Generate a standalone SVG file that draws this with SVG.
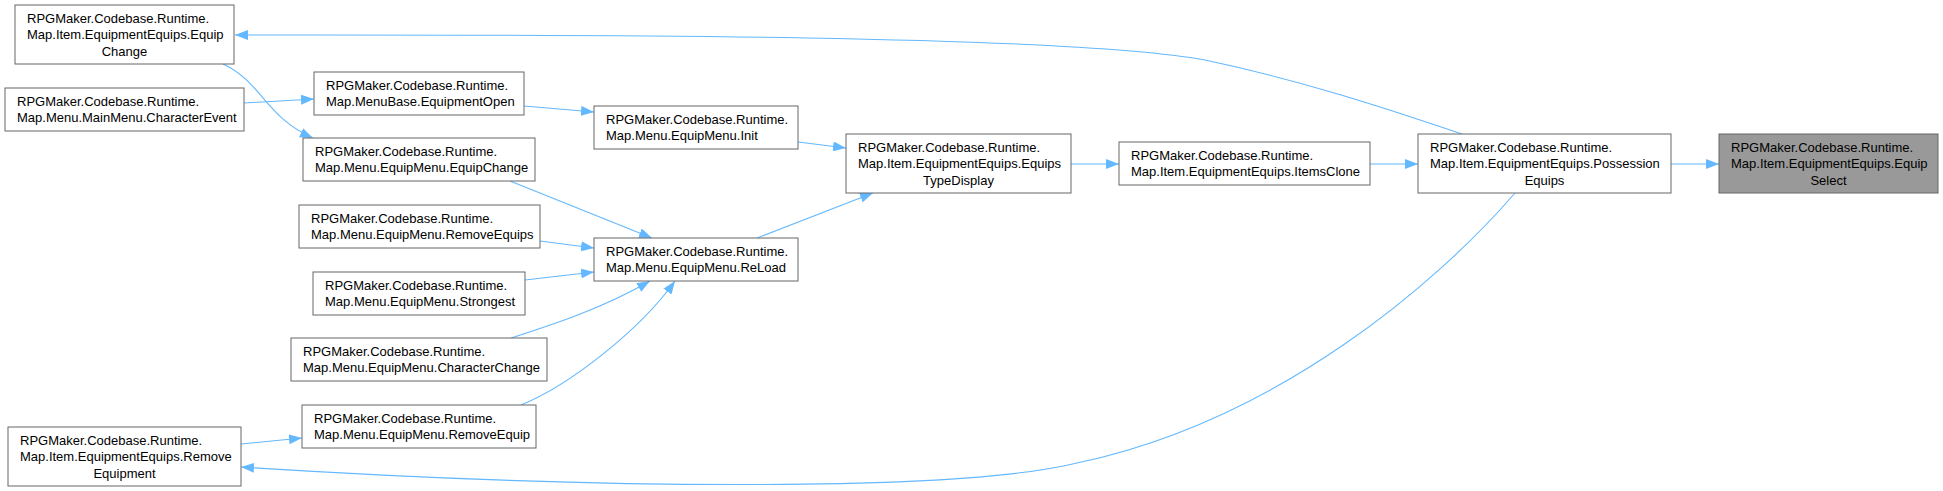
<svg xmlns="http://www.w3.org/2000/svg" width="1943" height="491" viewBox="0 0 1943 491">
<style>
.nb{fill:#ffffff;stroke:#666666;stroke-width:1}
.nf{fill:#999999;stroke:#666666;stroke-width:1}
text{font-family:"Liberation Sans",Arial,Helvetica,sans-serif;font-size:13px;fill:#000000}
.c{text-anchor:middle}
.e{fill:none;stroke:#63b8ff;stroke-width:1.1}
</style>
<defs>
<marker id="ah" markerWidth="13" markerHeight="10" refX="13" refY="5" orient="auto" markerUnits="userSpaceOnUse">
<path d="M0,0L13,5L0,10z" fill="#63b8ff"/>
</marker>
</defs>
<rect width="1943" height="491" fill="#ffffff"/>
<g id="connectors">
<path class="e" marker-end="url(#ah)" d="M1462,134 C1385,108 1300,80 1205,60 C1060,33 520,35 235,35"/>
<path class="e" marker-end="url(#ah)" d="M1515,193 C1440,280 1280,420 1077,463 C960,492 600,490 241,467"/>
<path class="e" marker-end="url(#ah)" d="M223,64 C262,82 265,117 313,138"/>
<path class="e" marker-end="url(#ah)" d="M244,103 L314,99"/>
<path class="e" marker-end="url(#ah)" d="M524,106 L594,112"/>
<path class="e" marker-end="url(#ah)" d="M798,142 L846,148"/>
<path class="e" marker-end="url(#ah)" d="M757,238 L873,193"/>
<path class="e" marker-end="url(#ah)" d="M1071,164 L1119,164"/>
<path class="e" marker-end="url(#ah)" d="M1370,164 L1418,164"/>
<path class="e" marker-end="url(#ah)" d="M1671,164 L1719,164"/>
<path class="e" marker-end="url(#ah)" d="M510,181 L652,238"/>
<path class="e" marker-end="url(#ah)" d="M540,241 L594,248"/>
<path class="e" marker-end="url(#ah)" d="M525,280 L594,272"/>
<path class="e" marker-end="url(#ah)" d="M511,338 C545,327 600,310 650,281"/>
<path class="e" marker-end="url(#ah)" d="M521,405 C570,385 640,330 675,281"/>
<path class="e" marker-end="url(#ah)" d="M241,444 L302,438"/>
</g>
<g id="n_equipchange_item">
<rect class="nb" x="15" y="5" width="219" height="59"/>
<text x="27" y="23">RPGMaker.Codebase.Runtime.</text>
<text x="27" y="39.3">Map.Item.EquipmentEquips.Equip</text>
<text class="c" x="124.5" y="55.6">Change</text>
</g>
<g id="n_characterevent">
<rect class="nb" x="5" y="88" width="239" height="43"/>
<text x="17" y="106">RPGMaker.Codebase.Runtime.</text>
<text x="17" y="122.3">Map.Menu.MainMenu.CharacterEvent</text>
</g>
<g id="n_removeequipment">
<rect class="nb" x="8" y="427" width="233" height="59"/>
<text x="20" y="445">RPGMaker.Codebase.Runtime.</text>
<text x="20" y="461.3">Map.Item.EquipmentEquips.Remove</text>
<text class="c" x="124.5" y="477.6">Equipment</text>
</g>
<g id="n_equipmentopen">
<rect class="nb" x="314" y="72" width="210" height="43"/>
<text x="326" y="90">RPGMaker.Codebase.Runtime.</text>
<text x="326" y="106.3">Map.MenuBase.EquipmentOpen</text>
</g>
<g id="n_menu_equipchange">
<rect class="nb" x="303" y="138" width="232" height="43"/>
<text x="315" y="156">RPGMaker.Codebase.Runtime.</text>
<text x="315" y="172.3">Map.Menu.EquipMenu.EquipChange</text>
</g>
<g id="n_removeequips">
<rect class="nb" x="299" y="205" width="241" height="43"/>
<text x="311" y="223">RPGMaker.Codebase.Runtime.</text>
<text x="311" y="239.3">Map.Menu.EquipMenu.RemoveEquips</text>
</g>
<g id="n_strongest">
<rect class="nb" x="313" y="272" width="212" height="43"/>
<text x="325" y="290">RPGMaker.Codebase.Runtime.</text>
<text x="325" y="306.3">Map.Menu.EquipMenu.Strongest</text>
</g>
<g id="n_characterchange">
<rect class="nb" x="291" y="338" width="256" height="43"/>
<text x="303" y="356">RPGMaker.Codebase.Runtime.</text>
<text x="303" y="372.3">Map.Menu.EquipMenu.CharacterChange</text>
</g>
<g id="n_removeequip">
<rect class="nb" x="302" y="405" width="234" height="43"/>
<text x="314" y="423">RPGMaker.Codebase.Runtime.</text>
<text x="314" y="439.3">Map.Menu.EquipMenu.RemoveEquip</text>
</g>
<g id="n_init">
<rect class="nb" x="594" y="106" width="204" height="43"/>
<text x="606" y="124">RPGMaker.Codebase.Runtime.</text>
<text x="606" y="140.3">Map.Menu.EquipMenu.Init</text>
</g>
<g id="n_reload">
<rect class="nb" x="594" y="238" width="204" height="43"/>
<text x="606" y="256">RPGMaker.Codebase.Runtime.</text>
<text x="606" y="272.3">Map.Menu.EquipMenu.ReLoad</text>
</g>
<g id="n_typedisplay">
<rect class="nb" x="846" y="134" width="225" height="59"/>
<text x="858" y="152">RPGMaker.Codebase.Runtime.</text>
<text x="858" y="168.3">Map.Item.EquipmentEquips.Equips</text>
<text class="c" x="958.5" y="184.6">TypeDisplay</text>
</g>
<g id="n_itemsclone">
<rect class="nb" x="1119" y="142" width="251" height="43"/>
<text x="1131" y="160">RPGMaker.Codebase.Runtime.</text>
<text x="1131" y="176.3">Map.Item.EquipmentEquips.ItemsClone</text>
</g>
<g id="n_possession">
<rect class="nb" x="1418" y="134" width="253" height="59"/>
<text x="1430" y="152">RPGMaker.Codebase.Runtime.</text>
<text x="1430" y="168.3">Map.Item.EquipmentEquips.Possession</text>
<text class="c" x="1544.5" y="184.6">Equips</text>
</g>
<g id="n_equipselect">
<rect class="nf" x="1719" y="134" width="219" height="59"/>
<text x="1731" y="152">RPGMaker.Codebase.Runtime.</text>
<text x="1731" y="168.3">Map.Item.EquipmentEquips.Equip</text>
<text class="c" x="1828.5" y="184.6">Select</text>
</g>
</svg>
